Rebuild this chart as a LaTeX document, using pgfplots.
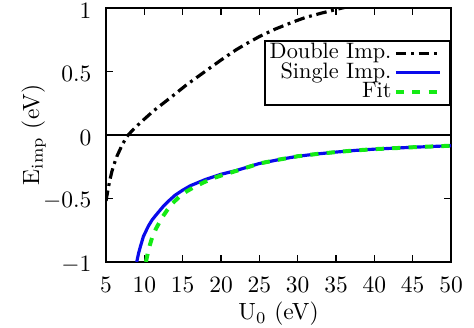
\documentclass[border=0pt]{standalone}
\usepackage{pgfplots}
\pgfplotsset{compat=1.18}
\definecolor{fitgreen}{RGB}{20,235,20}
\definecolor{singleblue}{RGB}{10,10,235}
\begin{document}
\begin{tikzpicture}
\begin{axis}[
  scale only axis=true,
  width=147pt, height=108.2pt,
  xmin=5, xmax=50, ymin=-1, ymax=1,
  xtick={5,10,...,50},
  ytick={-1,-0.5,0,0.5,1},
  yticklabel style={xshift=-2.7pt, yshift=-1.2pt},
  xticklabel style={yshift=-3pt},
  tick align=inside,
  tick pos=both,
  major tick length=3pt,
  tick style={black, line width=0.6pt},
  axis line style={line width=0.85pt},
  font=\fontsize{10}{12}\selectfont,
  xlabel={U\textsubscript{0} (eV)},
  ylabel={E\textsubscript{imp} (eV)},
  xlabel style={at={(axis description cs:0.5,-0.205)}, anchor=center},
  ylabel style={at={(axis description cs:-0.21,0.5)}, anchor=center},
  clip=true,
  legend style={at={(rel axis cs:1,0.874)}, anchor=north east, draw=black, line width=0.7pt,
    font=\fontsize{9.5}{10}\selectfont, inner xsep=1pt, inner ysep=1.2pt, row sep=0pt,
    nodes={inner xsep=1pt, inner ysep=0pt, text height=6.5pt, text depth=1.8pt},
    cells={anchor=east}},
  legend cell align=right,
  legend plot pos=right,
  legend image code/.code={\draw[#1] (0cm,0cm) -- (0.66cm,0cm); \path (0.75cm,0cm);},
]
\addplot[black, line width=0.6pt, forget plot] coordinates {(5,0) (50,0)};
\addplot[black, line width=1.35pt, dash pattern=on 4.5pt off 2pt on 1.2pt off 2pt] coordinates {
(5,-0.52) (5.25,-0.43) (5.5,-0.355) (5.75,-0.29) (6,-0.24) (6.4,-0.17) (7.05,-0.085)
(7.5,-0.035) (7.9,0) (8.5,0.04) (9.4,0.092) (10,0.125) (11.2,0.19) (12.9,0.27) (14,0.322)
(15.5,0.395) (17,0.46) (18.56,0.528) (20,0.59) (22,0.672) (23.35,0.72) (25,0.775)
(27,0.832) (29.4,0.89) (31,0.925) (33,0.958) (35.8,1.0) (37,1.015)};
\addlegendentry{Double Imp.}
\addplot[singleblue, line width=1.35pt] coordinates {
(9.0,-1.0) (9.25,-0.93) (9.5,-0.875) (9.87,-0.80) (10.5,-0.72) (11,-0.67) (11.6,-0.625)
(12.5,-0.56) (13.35,-0.51) (14,-0.475) (15,-0.435) (16,-0.40) (17,-0.375) (18,-0.35)
(19,-0.33) (20,-0.31) (22,-0.28) (25,-0.225) (27.5,-0.195) (30,-0.168) (32.5,-0.15)
(35,-0.135) (37.5,-0.122) (40,-0.112) (45,-0.097) (50,-0.085)};
\addlegendentry{Single Imp.}
\addplot[fitgreen, line width=1.7pt, dash pattern=on 3.5pt off 3.5pt] coordinates {
(10.2,-1.0) (10.45,-0.93) (10.7,-0.87) (11,-0.81) (11.5,-0.74) (12.26,-0.655) (13,-0.59)
(13.56,-0.545) (14.5,-0.49) (15.5,-0.445) (16.5,-0.41) (17.7,-0.375) (19,-0.34) (20,-0.32)
(22,-0.283) (25,-0.225) (27.5,-0.195) (30,-0.168) (32.5,-0.15)
(35,-0.135) (37.5,-0.122) (40,-0.112) (45,-0.097) (50,-0.085)};
\addlegendentry{Fit}
\end{axis}
\pgfresetboundingbox
\useasboundingbox ([shift={(-45.2pt,-28.1pt)}]current axis.south west) rectangle ([shift={(9.8pt,3.4pt)}]current axis.north east);
\end{tikzpicture}
\end{document}
